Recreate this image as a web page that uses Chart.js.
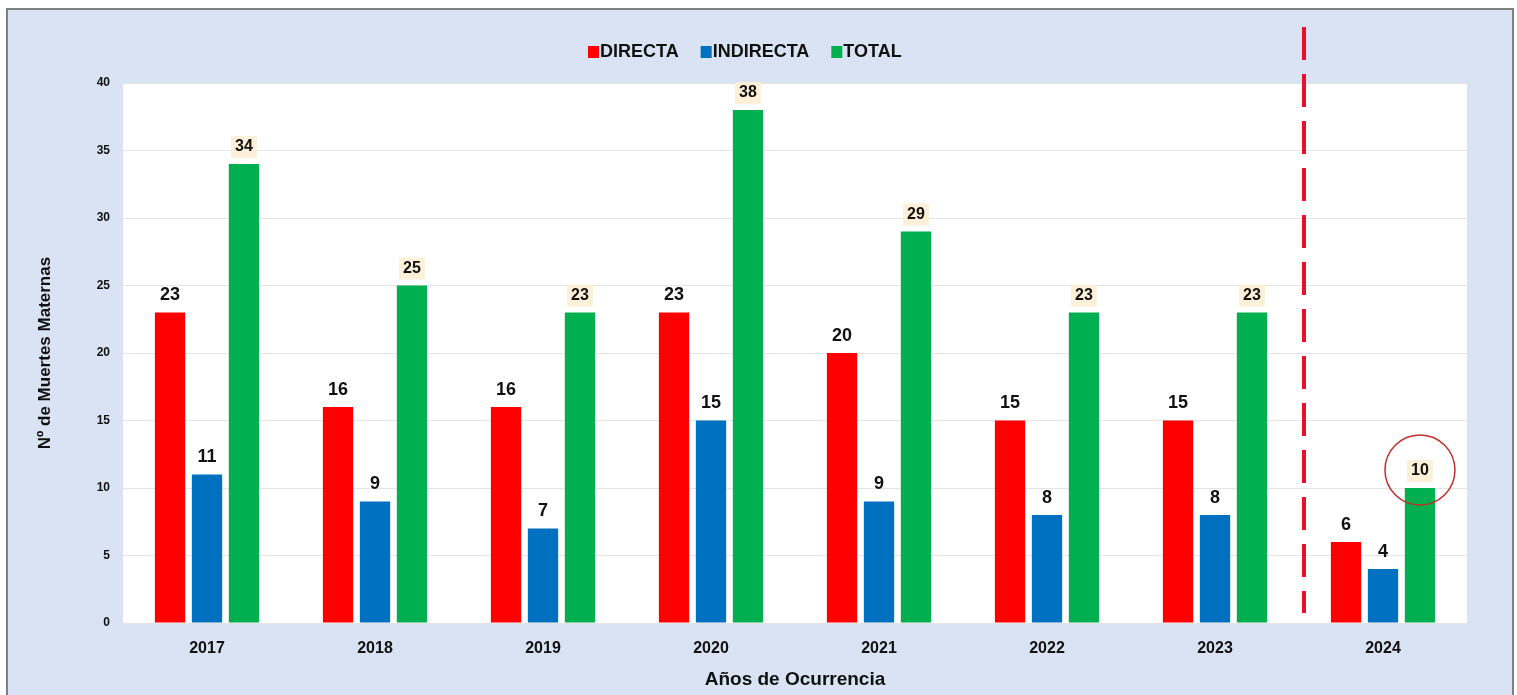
<!DOCTYPE html>
<html>
<head>
<meta charset="utf-8">
<script src="https://cdn.jsdelivr.net/npm/chart.js@4"></script>
<style>
  html, body { margin: 0; padding: 0; background: #fff; }
  #wrap { position: relative; width: 1517px; height: 695px; }
</style>
</head>
<body>
<div id="wrap"><canvas id="chart" width="1517" height="695"></canvas></div>
<script>
// datos
const years = ['2017', '2018', '2019', '2020', '2021', '2022', '2023', '2024'];
const directa = [23, 16, 16, 23, 20, 15, 15, 6];
const indirecta = [11, 9, 7, 15, 9, 8, 8, 4];
const total = [34, 25, 23, 38, 29, 23, 23, 10];
const yTicks = [0, 5, 10, 15, 20, 25, 30, 35, 40];

const FONT = '"Liberation Sans", Arial, sans-serif';
const colors = { directa: '#ff0000', indirecta: '#0070c0', total: '#00b050' };

// fondo, leyenda, etiquetas, línea punteada y círculo
const decoPlugin = {
  id: 'deco',
  beforeDraw(chart) {
    const { ctx, chartArea: a } = chart;
    ctx.save();
    ctx.fillStyle = '#ffffff';
    ctx.fillRect(0, 0, chart.width, chart.height);
    ctx.fillStyle = '#dae3f3';
    ctx.fillRect(7, 9, 1506, 700);
    ctx.strokeStyle = '#7f7f7f';
    ctx.lineWidth = 2;
    ctx.strokeRect(7, 9, 1506, 700);
    ctx.fillStyle = '#ffffff';
    ctx.fillRect(a.left, a.top, a.right - a.left, a.bottom - a.top);
    ctx.restore();
  },
  afterDatasetsDraw(chart) {
    const { ctx } = chart;
    const x = chart.scales.x, y = chart.scales.y;
    ctx.save();

    // etiquetas de datos
    chart.data.datasets.forEach((ds, di) => {
      const meta = chart.getDatasetMeta(di);
      meta.data.forEach((bar, i) => {
        const v = ds.data[i];
        const cy = bar.y - 17;
        if (di === 2) {
          ctx.font = 'bold 16px ' + FONT;
          const w = ctx.measureText(String(v)).width;
          ctx.fillStyle = '#fdf0d8';
          ctx.fillRect(bar.x - w / 2 - 4, cy - 11, w + 8, 22);
        } else {
          ctx.font = 'bold 18px ' + FONT;
        }
        ctx.fillStyle = '#111';
        ctx.textAlign = 'center';
        ctx.textBaseline = 'middle';
        ctx.fillText(String(v), bar.x, cy);
      });
    });

    // línea punteada entre 2023 y 2024
    const lx = (x.getPixelForValue(6) + x.getPixelForValue(7)) / 2 + 5;
    ctx.strokeStyle = '#e8102a';
    ctx.lineWidth = 4;
    ctx.setLineDash([33, 14]);
    ctx.beginPath();
    ctx.moveTo(lx, 27);
    ctx.lineTo(lx, 613);
    ctx.stroke();
    ctx.setLineDash([]);

    // círculo en el total 2024
    const last = chart.getDatasetMeta(2).data[7];
    ctx.strokeStyle = '#c0302a';
    ctx.lineWidth = 1.5;
    ctx.beginPath();
    ctx.arc(last.x, y.getPixelForValue(total[7]) - 18, 35, 0, Math.PI * 2);
    ctx.stroke();

    // leyenda
    const items = [['DIRECTA', colors.directa], ['INDIRECTA', colors.indirecta], ['TOTAL', colors.total]];
    ctx.font = 'bold 18px ' + FONT;
    ctx.textAlign = 'left';
    ctx.textBaseline = 'middle';
    let lxp = 588;
    items.forEach(([t, c]) => {
      ctx.fillStyle = c;
      ctx.fillRect(lxp, 46, 11, 12);
      ctx.fillStyle = '#111';
      ctx.fillText(t, lxp + 12, 52);
      lxp += 12 + ctx.measureText(t).width + 22;
    });
    ctx.restore();
  }
};

new Chart(document.getElementById('chart'), {
  type: 'bar',
  data: {
    labels: years,
    datasets: [
      { label: 'DIRECTA', data: directa, backgroundColor: colors.directa },
      { label: 'INDIRECTA', data: indirecta, backgroundColor: colors.indirecta },
      { label: 'TOTAL', data: total, backgroundColor: colors.total }
    ]
  },
  options: {
    responsive: false,
    animation: false,
    datasets: { bar: { categoryPercentage: 0.66, barPercentage: 0.82 } },
    layout: { padding: { top: 83, right: 50, left: 0, bottom: 0 } },
    plugins: { legend: { display: false }, tooltip: { enabled: false } },
    scales: {
      x: {
        afterFit: s => { s.height = 72; },
        grid: { display: false, drawTicks: false },
        border: { display: false },
        ticks: { color: '#111', font: { family: FONT, size: 16, weight: 'bold' }, padding: 16 },
        title: { display: true, text: 'Años de Ocurrencia', color: '#111', font: { family: FONT, size: 19, weight: 'bold' }, padding: { top: 0, bottom: 4 } }
      },
      y: {
        min: 0, max: 40,
        afterFit: s => { s.width = 123; },
        afterBuildTicks: s => { s.ticks = yTicks.map(v => ({ value: v })); },
        grid: { color: '#e4e4e4', drawTicks: false },
        border: { display: false },
        ticks: { color: '#111', font: { family: FONT, size: 12, weight: 'bold' }, padding: 13 },
        title: { display: true, text: 'Nº de Muertes Maternas', color: '#111', font: { family: FONT, size: 17, weight: 'bold' }, padding: { top: 35, bottom: 0 } }
      }
    }
  },
  plugins: [decoPlugin]
});
</script>
</body>
</html>
